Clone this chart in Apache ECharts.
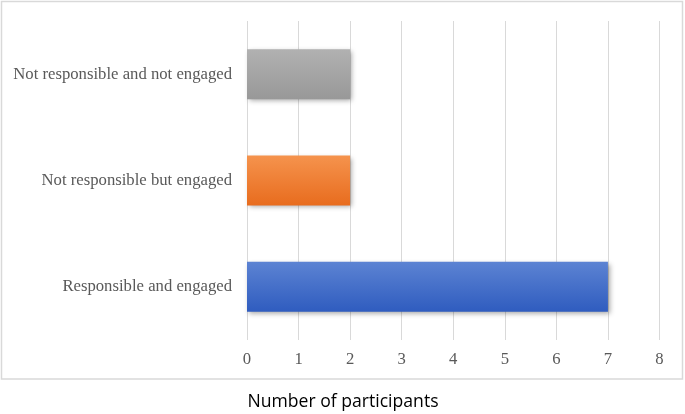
<!DOCTYPE html>
<html>
<head>
<meta charset="utf-8">
<script src="https://cdn.jsdelivr.net/npm/echarts@6/dist/echarts.min.js"></script>
<style>
  html, body { margin: 0; padding: 0; background: #fff; }
  #chart { width: 685px; height: 414px; }
</style>
</head>
<body>
<div id="chart"></div>
<script>
// data
const categories = ['Responsible and engaged', 'Not responsible but engaged', 'Not responsible and not engaged']
const participants = [7, 2, 2]
const xTicks = [0, 1, 2, 3, 4, 5, 6, 7, 8]
const axisTitle = 'Number of participants'

// bar fills, bottom to top
const barColors = [
  ['#5c83d3', '#2f5cbf'],
  ['#f5934d', '#e86c1e'],
  ['#b1b1b1', '#989898']
]

const chart = echarts.init(document.getElementById('chart'))

chart.setOption({
  backgroundColor: '#fff',
  animation: false,
  graphic: [{
    type: 'rect',
    shape: { x: 1.5, y: 1.5, width: 681, height: 377.5 },
    style: { fill: 'none', stroke: '#d9d9d9', lineWidth: 1.5 },
    z: -1
  }, {
    // axis title sits centred under the whole frame, not the plot
    type: 'text',
    x: 343,
    y: 402,
    style: {
      text: axisTitle,
      fill: '#000',
      font: '17.6px "Open Sans"',
      align: 'center',
      verticalAlign: 'middle'
    }
  }],
  grid: {
    left: 247,
    right: 25.5,
    top: 21,
    bottom: 74,
    containLabel: false
  },
  xAxis: {
    type: 'value',
    min: xTicks[0],
    max: xTicks[xTicks.length - 1],
    interval: 1,
    axisLine: { show: false },
    axisTick: { show: false },
    axisLabel: {
      margin: 11,
      fontFamily: 'Liberation Serif',
      fontSize: 16.7,
      color: '#595959'
    },
    splitLine: { lineStyle: { color: '#d9d9d9', width: 1 } }
  },
  yAxis: {
    type: 'category',
    data: categories,
    axisLine: { show: false },
    axisTick: { show: false },
    axisLabel: {
      margin: 15,
      fontFamily: 'Liberation Serif',
      fontSize: 16.7,
      color: '#595959'
    }
  },
  series: [{
    type: 'bar',
    barCategoryGap: '53%',
    data: participants.map((v, i) => ({
      value: v,
      itemStyle: {
        color: new echarts.graphic.LinearGradient(0, 0, 0, 1, [
          { offset: 0, color: barColors[i][0] },
          { offset: 1, color: barColors[i][1] }
        ])
      }
    })),
    itemStyle: {
      shadowColor: 'rgba(0,0,0,0.35)',
      shadowBlur: 5,
      shadowOffsetX: 2,
      shadowOffsetY: 2
    }
  }]
})
</script>
</body>
</html>
